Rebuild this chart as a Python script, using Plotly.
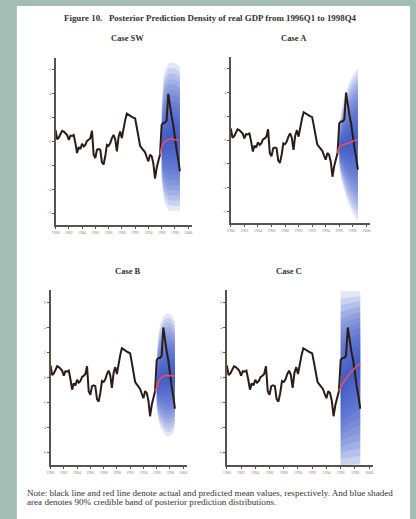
import plotly.graph_objects as go

W, H = 416, 519

# ---------------- data ----------------
# actual real GDP series (quarterly, 1980Q1 .. 1998Q4)
quarters = [1980 + i / 4 for i in range(76)]
actual = [0.97, 0.19, 0.33, 0.60, 0.90, 0.83, 0.69, 0.55, 0.14, 0.50,
          0.47, 0.55, -0.14, -0.97, -0.47, -0.63, -0.19, -0.41, -0.28, 0.05,
          0.14, 0.28, 0.90, -1.10, -1.38, -0.69, -0.63, -0.69, -1.74, -1.93,
          -1.24, -0.28, -0.36, -0.14, 0.28, 0.55, 0.19, -0.83, 0.36, 0.83,
          0.28, 1.19, 1.79, 2.34, 2.23, 2.12, 2.07, 2.00, 1.93, 1.19,
          0.47, -0.36, -0.55, -0.69, -0.91, -1.30, -1.66, -1.10, -1.24, -1.85,
          -3.10, -2.20, -1.66, -1.10, 1.40, 1.57, 1.57, 1.74, 4.00, 2.90,
          2.10, 1.38, 0.14, -0.69, -1.50, -2.50]

# forecast horizon 1996Q1 .. 1998Q4
fc_quarters = [1996 + i / 4 for i in range(12)]

sw_mean = [-0.5, -0.2, 0.0, 0.1, 0.15, 0.2, 0.2, 0.2, 0.15, 0.15, 0.1, 0.1]
sw_upper = [3.0, 5.2, 6.0, 6.3, 6.5, 6.6, 6.6, 6.6, 6.6, 6.5, 6.4, 6.3]
sw_lower = [-3.3, -4.6, -5.2, -5.5, -5.7, -5.8, -5.8, -5.8, -5.8, -5.8, -5.8, -5.8]

a_mean = [-0.6, -0.5, -0.45, -0.4, -0.3, -0.3, -0.2, -0.2, -0.1, -0.05, 0.0, 0.0]
a_upper = [1.2, 2.3, 3.0, 3.6, 4.1, 4.5, 4.9, 5.2, 5.5, 5.7, 5.9, 6.0]
a_lower = [-2.2, -3.2, -3.8, -4.3, -4.8, -5.2, -5.6, -5.9, -6.2, -6.5, -6.7, -6.9]

b_mean = [-0.8, -0.4, -0.15, 0.0, 0.1, 0.15, 0.15, 0.15, 0.15, 0.15, 0.1, 0.1]
b_upper = [1.8, 3.4, 4.2, 4.6, 4.9, 5.0, 5.1, 5.1, 5.1, 5.0, 4.8, 4.5]
b_lower = [-2.6, -3.4, -3.9, -4.2, -4.4, -4.6, -4.7, -4.7, -4.7, -4.6, -4.4, -4.0]

c_mean = [-0.8, -0.55, -0.3, -0.1, 0.1, 0.3, 0.45, 0.6, 0.75, 0.9, 1.0, 1.1]
c_upper = [6.9, 6.9, 6.9, 6.9, 6.9, 6.9, 6.9, 6.9, 6.9, 6.9, 6.9, 6.9]
c_lower = [-7.5, -7.5, -7.5, -7.5, -7.5, -7.5, -7.5, -7.5, -7.5, -7.5, -7.5, -7.5]

case_names = ["Case SW", "Case A", "Case B", "Case C"]
x_ticks = [1980, 1982, 1984, 1986, 1988, 1990, 1992, 1994, 1996, 1998, 2000]
y_ticks = [-6, -4, -2, 0, 2, 4, 6]

# ---------------- layout helpers ----------------
def px(x):
    return x / W

def py(y):
    return 1 - y / H

panels = [
    dict(name=case_names[0], mean=sw_mean, up=sw_upper, lo=sw_lower,
         x=(52, 190), y=(58, 225), title_xy=(125, 38)),
    dict(name=case_names[1], mean=a_mean, up=a_upper, lo=a_lower,
         x=(229, 370), y=(57, 223), title_xy=(293, 38)),
    dict(name=case_names[2], mean=b_mean, up=b_upper, lo=b_lower,
         x=(47, 185), y=(290, 465), title_xy=(125, 271)),
    dict(name=case_names[3], mean=c_mean, up=c_upper, lo=c_lower,
         x=(225, 373), y=(290, 465), title_xy=(288, 271)),
]

fig = go.Figure()
n_layers = 14
fracs = [1.0 - i * (0.93 / (n_layers - 1)) for i in range(n_layers)]
alpha = 0.13

annotations = []
axis_common = dict(showgrid=False, zeroline=False, showline=True,
                   linecolor="#5e514a", linewidth=1.6, ticks="outside",
                   ticklen=2, tickcolor="#5e514a",
                   tickfont=dict(size=4, color="#8a8480", family="Liberation Serif"))

for k, p in enumerate(panels):
    n = k + 1
    xa = "x" if n == 1 else f"x{n}"
    ya = "y" if n == 1 else f"y{n}"
    # fan bands (density shading)
    for f in fracs:
        up = [m + f * (u - m) for m, u in zip(p["mean"], p["up"])]
        lo = [m - f * (m - l) for m, l in zip(p["mean"], p["lo"])]
        fig.add_trace(go.Scatter(
            x=fc_quarters + fc_quarters[::-1], y=up + lo[::-1],
            fill="toself", fillcolor=f"rgba(40,68,195,{alpha})",
            line=dict(width=0), mode="lines",
            hoverinfo="skip", showlegend=False, xaxis=xa, yaxis=ya))
    # actual
    fig.add_trace(go.Scatter(x=quarters, y=actual, mode="lines",
                             line=dict(color="#2a1c17", width=2),
                             showlegend=False, xaxis=xa, yaxis=ya))
    # predicted mean (joined to last observed quarter)
    fig.add_trace(go.Scatter(x=[quarters[63]] + fc_quarters,
                             y=[actual[63]] + p["mean"], mode="lines",
                             line=dict(color="#e8505c", width=1.6, shape="spline"),
                             showlegend=False, xaxis=xa, yaxis=ya))
    xkey = "xaxis" if n == 1 else f"xaxis{n}"
    ykey = "yaxis" if n == 1 else f"yaxis{n}"
    fig.layout[xkey] = dict(domain=[px(p["x"][0]), px(p["x"][1])], range=[1980, 2000.6],
                            anchor=ya, tickvals=x_ticks,
                            ticktext=[str(t) for t in x_ticks], **axis_common)
    fig.layout[ykey] = dict(domain=[py(p["y"][1]), py(p["y"][0])], range=[-7, 7],
                            anchor=xa, tickvals=y_ticks,
                            ticktext=[str(t) for t in y_ticks], **axis_common)
    annotations.append(dict(text=f"<b>{p['name']}</b>", x=px(p["title_xy"][0]),
                            y=py(p["title_xy"][1]), xref="paper", yref="paper",
                            showarrow=False, xanchor="center", yanchor="middle",
                            font=dict(family="Liberation Serif", size=8.5, color="#333")))

annotations.append(dict(
    text="<b>Figure 10.   Posterior Prediction Density of real GDP from 1996Q1 to 1998Q4</b>",
    x=px(208), y=py(18), xref="paper", yref="paper", showarrow=False,
    xanchor="center", yanchor="middle",
    font=dict(family="Liberation Serif", size=8.9, color="#333")))
annotations.append(dict(
    text="Note: black line and red line denote actual and predicted mean values, respectively. And blue shaded",
    x=px(21), y=py(493), xref="paper", yref="paper", showarrow=False,
    xanchor="left", yanchor="middle",
    font=dict(family="Liberation Serif", size=9.1, color="#333")))
annotations.append(dict(
    text="area denotes 90% credible band of posterior prediction distributions.",
    x=px(21), y=py(501.5), xref="paper", yref="paper", showarrow=False,
    xanchor="left", yanchor="middle",
    font=dict(family="Liberation Serif", size=9.1, color="#333")))

fig.update_layout(
    width=W, height=H, margin=dict(l=0, r=0, t=0, b=0),
    paper_bgcolor="#a3bdb4", plot_bgcolor="rgba(0,0,0,0)",
    annotations=annotations,
    shapes=[dict(type="rect", xref="paper", yref="paper",
                 x0=px(13), x1=px(410), y0=-0.02, y1=py(6),
                 fillcolor="#ffffff", line=dict(width=0), layer="below")],
)

fig.write_html("out.html", config={"displayModeBar": False},
               post_script="document.body.style.margin='0px';document.body.style.overflow='hidden';")
